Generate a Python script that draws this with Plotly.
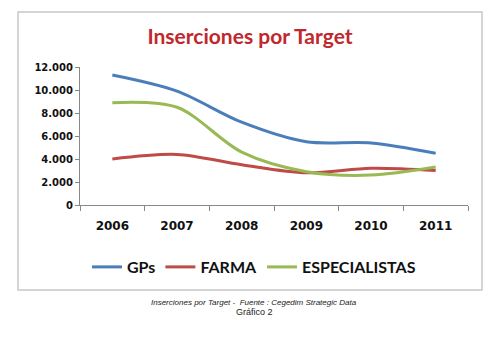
import plotly.graph_objects as go

years = ["2006", "2007", "2008", "2009", "2010", "2011"]
gps = [11300, 9900, 7200, 5500, 5400, 4500]
farma = [4000, 4400, 3500, 2800, 3200, 3000]
especialistas = [8900, 8500, 4600, 2900, 2600, 3300]
y_ticks = [0, 2000, 4000, 6000, 8000, 10000, 12000]
y_labels = ["0", "2.000", "4.000", "6.000", "8.000", "10.000", "12.000"]

fig = go.Figure()
for name, vals, col in [("GPs", gps, "#4A7EBB"), ("FARMA", farma, "#BE4B48"), ("ESPECIALISTAS", especialistas, "#98B954")]:
    fig.add_trace(go.Scatter(x=years, y=vals, name=name, mode="lines",
                             line=dict(color=col, width=3, shape="spline", smoothing=0.9)))

L, R, T, B = 80, 32, 67, 133
pw, ph = 500 - L - R, 338 - T - B

def px(x):
    return (x - L) / pw

def py(y):
    return (338 - B - y) / ph

fig.add_shape(type="rect", xref="paper", yref="paper",
              x0=px(18), x1=px(482), y0=py(290), y1=py(12),
              line=dict(color="#C8C8C8", width=1.5), fillcolor="rgba(0,0,0,0)", layer="below")

fig.update_layout(
    width=500, height=338,
    margin=dict(l=L, r=R, t=T, b=B),
    paper_bgcolor="white", plot_bgcolor="white",
    showlegend=True,
    legend=dict(orientation="h", x=px(254), xanchor="center", y=py(267), yanchor="middle",
                font=dict(family="Lato, Open Sans, sans-serif", size=16, color="#111", weight="bold"),
                itemwidth=30, traceorder="normal"),
    title=dict(text="<b>Inserciones por Target</b>", x=0.5, xanchor="center",
               y=1 - 37 / 338, yanchor="middle",
               font=dict(family="Lato, Open Sans, sans-serif", size=21, color="#C0282D")),
    xaxis=dict(type="category", range=[-0.5, 5.5], showgrid=False, showline=True,
               linecolor="#888", linewidth=1,
               ticks="outside", ticklen=5, tickcolor="#888", tickson="boundaries",
               ticklabelstandoff=10,
               tickfont=dict(family="DejaVu Sans, sans-serif", size=12, color="#111", weight="bold")),
    yaxis=dict(range=[0, 12000], tickvals=y_ticks, ticktext=y_labels, showgrid=False,
               showline=True, linecolor="#888", linewidth=1, ticks="outside", ticklen=4,
               tickcolor="#888", zeroline=False,
               tickfont=dict(family="DejaVu Sans, sans-serif", size=10, color="#111", weight="bold")),
)

fig.add_annotation(text="<i>Inserciones por Target -  Fuente : Cegedim Strategic Data</i>",
                   xref="paper", yref="paper", x=px(254), y=py(309), showarrow=False,
                   font=dict(family="Liberation Sans, Arial, sans-serif", size=8, color="#222"))
fig.add_annotation(text="Gráfico 2", xref="paper", yref="paper", x=px(254), y=py(319),
                   showarrow=False,
                   font=dict(family="Liberation Sans, Arial, sans-serif", size=9, color="#222"))

fig.write_html("out.html")
